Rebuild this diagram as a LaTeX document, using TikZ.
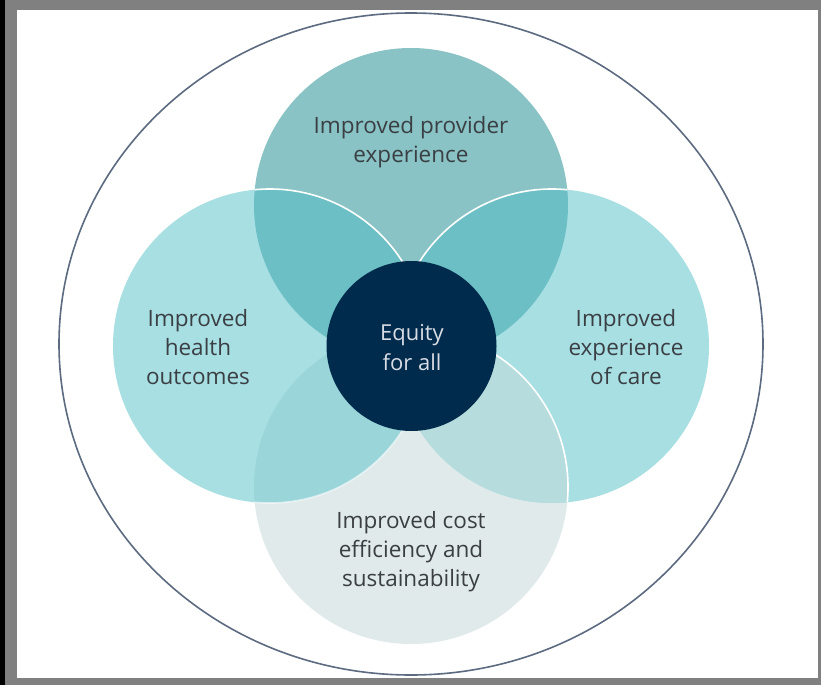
\documentclass[tikz,border=0pt]{standalone}
\usepackage{fontspec}
\setmainfont{Open Sans}
\definecolor{framegray}{HTML}{808080}
\definecolor{outerline}{HTML}{5C6B80}
\definecolor{topcol}{HTML}{89C3C5}
\definecolor{sidecol}{HTML}{A8DFE3}
\definecolor{botcol}{HTML}{E1EAEB}
\definecolor{ovtop}{HTML}{6CBFC5}
\definecolor{ovlb}{HTML}{9AD5DA}
\definecolor{ovrb}{HTML}{B7DCDE}
\definecolor{navy}{HTML}{002B4C}
\definecolor{txt}{HTML}{3A3F44}
\definecolor{ctxt}{HTML}{D8DCE4}
\tikzset{
  lbl/.style={align=center, text=txt, inner sep=0pt, font=\fontsize{22.5}{29}\selectfont},
  clbl/.style={align=center, text=ctxt, inner sep=0pt, font=\fontsize{22}{30}\selectfont},
  whitearc/.style={draw=white, line width=1.6pt},
}
\begin{document}
\begin{tikzpicture}[x=1pt,y=-1pt]
\useasboundingbox (0,0) rectangle (821,685);
\fill[framegray] (0,0) rectangle (821,685);
\fill[black] (0,0) rectangle (5,685);
\fill[white] (17,10) rectangle (818,678);
% outer ring
\draw[outerline, line width=1.6pt] (411,344) ellipse [x radius=352, y radius=331];
% circle centres
\coordinate (ct) at (411,205);
\coordinate (cl) at (270,346);
\coordinate (cr) at (552,346);
\coordinate (cb) at (411,487);
\def\R{157}
% base fills
\fill[topcol] (ct) circle[radius=\R];
\fill[botcol] (cb) circle[radius=\R];
\fill[sidecol] (cl) circle[radius=\R];
\fill[sidecol] (cr) circle[radius=\R];
% overlaps
\begin{scope}
  \clip (ct) circle[radius=\R];
  \fill[ovtop] (cl) circle[radius=\R];
  \fill[ovtop] (cr) circle[radius=\R];
\end{scope}
\begin{scope}
  \clip (cb) circle[radius=\R];
  \fill[ovlb] (cl) circle[radius=\R];
  \fill[ovrb] (cr) circle[radius=\R];
\end{scope}
% white arcs
\begin{scope}
  \clip (ct) circle[radius=\R];
  \draw[whitearc] (cl) circle[radius=\R];
  \draw[whitearc] (cr) circle[radius=\R];
\end{scope}
\begin{scope}
  \clip (cr) circle[radius=\R];
  \draw[whitearc] (cb) circle[radius=\R];
\end{scope}
\begin{scope}
  \clip (cb) circle[radius=\R];
  \draw[whitearc, draw opacity=0.6] (cl) circle[radius=\R];
\end{scope}
% centre
\node[circle, fill=navy, minimum size=170pt, inner sep=0pt] (eq) at (411.5,346) {};
\node[clbl] (eqt) at (412,348) {Equity\\for all};
% labels
\node[lbl] (tp) at (411,142) {Improved provider\\experience};
\node[lbl] (lt) at (198,347) {Improved\\health\\outcomes};
\node[lbl] (rt) at (626,347) {Improved\\experience\\of care};
\node[lbl] (bt) at (411,552) {Improved cost\\efficiency and\\sustainability};
\end{tikzpicture}
\end{document}
